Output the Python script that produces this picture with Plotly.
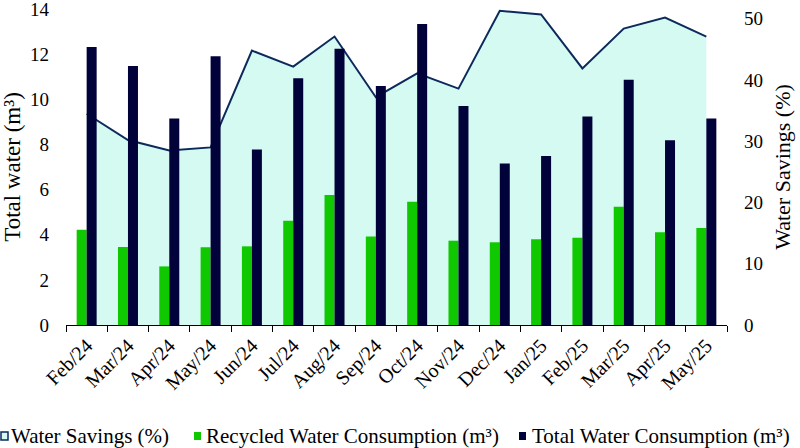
import plotly.graph_objects as go

months = ["Feb/24", "Mar/24", "Apr/24", "May/24", "Jun/24", "Jul/24", "Aug/24", "Sep/24",
          "Oct/24", "Nov/24", "Dec/24", "Jan/25", "Feb/25", "Mar/25", "Apr/25", "May/25"]
total_water = [12.33, 11.49, 9.16, 11.92, 7.79, 10.95, 12.26, 10.60,
               13.36, 9.72, 7.16, 7.50, 9.25, 10.88, 8.20, 9.16]
recycled_water = [4.23, 3.46, 2.60, 3.45, 3.49, 4.62, 5.77, 3.93,
                  5.47, 3.74, 3.67, 3.80, 3.87, 5.25, 4.11, 4.30]
water_savings = [34.5, 30.2, 28.5, 29.0, 44.8, 42.2, 47.1, 37.2,
                 41.1, 38.6, 51.3, 50.7, 41.9, 48.4, 50.2, 47.1]

FONT = "Liberation Serif"
AREA_FILL = "#d4faf1"
LINE_COL = "#0c2a5c"
GREEN = "#10c800"
NAVY = "#02023a"

fig = go.Figure()
fig.add_trace(go.Scatter(x=months, y=water_savings, mode="lines", fill="tozeroy",
                         fillcolor=AREA_FILL, line=dict(color=LINE_COL, width=2),
                         name="Water Savings (%)", yaxis="y", showlegend=False))
fig.add_trace(go.Bar(x=months, y=recycled_water, marker=dict(color=GREEN, line=dict(width=0)),
                     name="Recycled Water Consumption (m³)", yaxis="y2", showlegend=False))
fig.add_trace(go.Bar(x=months, y=total_water, marker=dict(color=NAVY, line=dict(width=0)),
                     name="Total Water Consumption (m³)", yaxis="y2", showlegend=False))

L, T, W, H = 66, 9, 661, 316
def px(x):
    return (x - L) / W
def py(y):
    return (T + H - y) / H

# custom legend
legend_items = [
    (1, 9, AREA_FILL, LINE_COL, "Water Savings (%)"),
    (194, 204, GREEN, GREEN, "Recycled Water Consumption (m³)"),
    (519, 530, NAVY, NAVY, "Total Water Consumption (m³)"),
]
shapes = []
annotations = []
for sx, tx, fc, lc, label in legend_items:
    shapes.append(dict(type="rect", xref="paper", yref="paper",
                       x0=px(sx), x1=px(sx + 7), y0=py(440), y1=py(432),
                       fillcolor=fc, line=dict(color=lc, width=1.5 if fc == AREA_FILL else 0)))
    annotations.append(dict(text=label, xref="paper", yref="paper", x=px(tx), y=py(436),
                            xanchor="left", yanchor="middle", showarrow=False,
                            font=dict(family=FONT, size=21, color="black")))

fig.update_layout(
    width=800, height=448,
    margin=dict(l=L, r=800 - L - W, t=T, b=448 - T - H),
    paper_bgcolor="white", plot_bgcolor="white",
    barmode="group", bargap=0.516, bargroupgap=0,
    showlegend=False,
    font=dict(family=FONT, size=19, color="black"),
    xaxis=dict(type="category", showline=True, linecolor="black", linewidth=1,
               ticks="outside", tickson="boundaries", ticklen=6, tickcolor="black",
               tickangle=-45, showgrid=False, automargin=False,
               tickfont=dict(family=FONT, size=20)),
    yaxis=dict(side="right", range=[0, 51.6], dtick=10, showgrid=False, zeroline=False,
               showline=False, ticks="", ticklabelstandoff=16, ticklabeloverflow="allow",
               automargin=False, tickfont=dict(family=FONT, size=19),
               title=dict(text="Water Savings (%)", font=dict(family=FONT, size=22), standoff=12)),
    yaxis2=dict(overlaying="y", side="left", range=[0, 14.02], tickvals=[0, 2, 4, 6, 8, 10, 12, 14],
                showgrid=False, zeroline=False, showline=False, ticks="", ticklabelstandoff=16,
                ticklabeloverflow="allow", automargin=False,
                tickfont=dict(family=FONT, size=19),
                title=dict(text="Total water (m³)", font=dict(family=FONT, size=23), standoff=8)),
    shapes=shapes, annotations=annotations,
)

fig.write_html("out.html")
